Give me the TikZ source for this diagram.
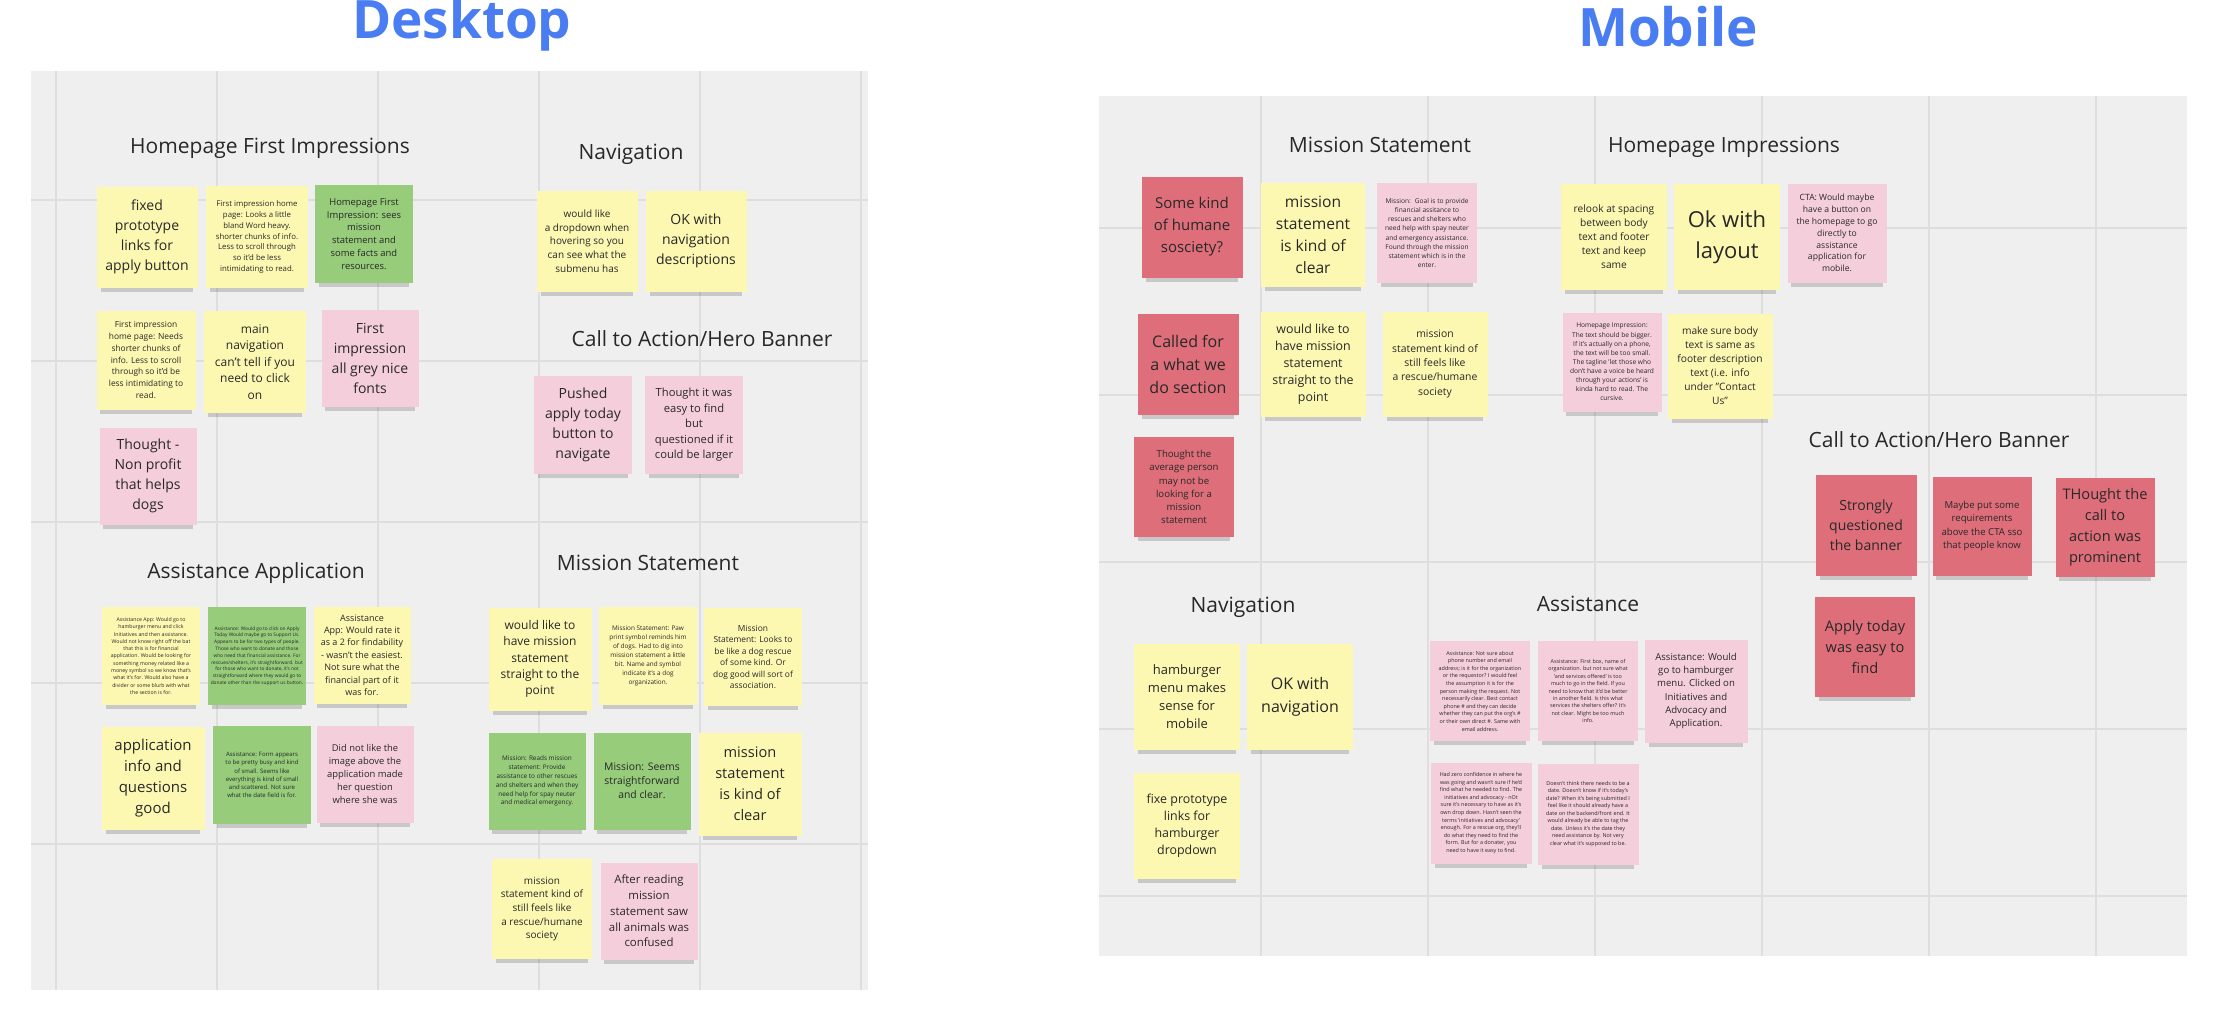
\documentclass[tikz,border=0pt]{standalone}
\usepackage{fontspec}
\setmainfont{Open Sans}
\usepackage{xcolor}
\usetikzlibrary{shadows}

\definecolor{noteyellow}{RGB}{253,248,177}
\definecolor{notegreen}{RGB}{150,204,122}
\definecolor{notepink}{RGB}{245,206,220}
\definecolor{notered}{RGB}{222,110,122}
\definecolor{boardgrey}{RGB}{239,239,239}
\definecolor{gridgrey}{RGB}{222,222,222}
\definecolor{titleblue}{RGB}{74,125,241}
\definecolor{notetext}{RGB}{40,40,40}

\begin{document}
\begin{tikzpicture}[x=0.5pt, y=-0.5pt,
    note/.style={rectangle, inner sep=0pt, align=center, text=notetext, minimum size=50pt,
      general shadow={fill=black, opacity=0.16, shadow yshift=-4.5pt, shadow scale=0.92}},
    yel/.style={note, fill=noteyellow},
    grn/.style={note, fill=notegreen},
    pnk/.style={note, fill=notepink},
    rd/.style={note, fill=notered},
    heading/.style={anchor=base, text=notetext, font=\fontsize{10.5}{13}\selectfont},
    bigtitle/.style={anchor=base, text=titleblue, font=\fontsize{26.5}{30}\selectfont\bfseries},
    gridline/.style={draw=gridgrey, line width=0.8pt}]

  \useasboundingbox (0,0) rectangle (2217,1011);
  \fill[white] (0,0) rectangle (2217,1011);

  % boards
  \fill[boardgrey] (31,71) rectangle (868,990);
  \foreach \x in {56,217,...,861} \draw[gridline] (\x,71) -- (\x,990);
  \foreach \y in {200,361,...,844} \draw[gridline] (31,\y) -- (868,\y);
  \fill[boardgrey] (1099,96) rectangle (2187,956);
  \foreach \x in {1261,1428,...,2096} \draw[gridline] (\x,96) -- (\x,956);
  \foreach \y in {228,395,...,896} \draw[gridline] (1099,\y) -- (2187,\y);

  \node[bigtitle] (desktopTitle) at (462,39) {Desktop};
  \node[bigtitle] (mobileTitle) at (1668,47) {Mobile};

  % desktop headings
  \node[heading] (dHomeHead) at (270,154) {Homepage First Impressions};
  \node[heading] (dNavHead) at (631,160) {Navigation};
  \node[heading] (dCtaHead) at (702,346) {Call to Action/Hero Banner};
  \node[heading] (dAssistHead) at (256,578) {Assistance Application};
  \node[heading] (dMissionHead) at (648,570) {Mission Statement};

  % desktop: homepage
  \node[yel, minimum size=50.5pt, font=\fontsize{7}{10}\selectfont] (dHome1) at (147,237) {fixed\\prototype\\links for\\apply button};
  \node[yel, minimum size=51pt, font=\fontsize{3.9}{5.4}\selectfont] (dHome2) at (257,237) {First impression home\\page: Looks a little\\bland Word heavy.\\shorter chunks of info.\\Less to scroll through\\so it'd be less\\intimidating to read.};
  \node[grn, minimum size=49pt, font=\fontsize{4.7}{6.45}\selectfont] (dHome3) at (364,234) {Homepage First\\Impression: sees\\mission\\statement and\\some facts and\\resources.};
  \node[yel, minimum size=49.5pt, font=\fontsize{4.2}{5.85}\selectfont] (dHome4) at (146,360) {First impression\\home page: Needs\\shorter chunks of\\info. Less to scroll\\through so it'd be\\less intimidating to\\read.};
  \node[yel, minimum size=51pt, font=\fontsize{6}{8.2}\selectfont] (dHome5) at (255,362) {main\\navigation\\can't tell if you\\need to click\\on};
  \node[pnk, minimum size=48.5pt, font=\fontsize{7}{10}\selectfont] (dHome6) at (370,358) {First\\impression\\all grey nice\\fonts};
  \node[pnk, minimum size=48.5pt, font=\fontsize{7}{10}\selectfont] (dHome7) at (148,476) {Thought -\\Non profit\\that helps\\dogs};

  % desktop: navigation and call to action
  \node[yel, minimum size=50.5pt, font=\fontsize{5}{6.85}\selectfont] (dNav1) at (587,241) {would like\\a dropdown when\\hovering so you\\can see what the\\submenu has};
  \node[yel, minimum size=50.5pt, font=\fontsize{7}{10}\selectfont] (dNav2) at (696,241) {OK with\\navigation\\descriptions};
  \node[pnk, minimum size=49pt, font=\fontsize{7}{10}\selectfont] (dCta1) at (583,425) {Pushed\\apply today\\button to\\navigate};
  \node[pnk, minimum size=49pt, font=\fontsize{5.6}{7.75}\selectfont] (dCta2) at (694,425) {Thought it was\\easy to find\\but\\questioned if it\\could be larger};

  % desktop: assistance application
  \node[yel, minimum size=49pt, font=\fontsize{2.6}{3.65}\selectfont] (dAssist1) at (151,656) {Assistance App: Would go to\\hamburger menu and click\\Initiatives and then assistance.\\Would not know right off the bat\\that this is for financial\\application. Would be looking for\\something money related like a\\money symbol so we know that's\\what it's for. Would also have a\\divider or some blurb with what\\the section is for.};
  \node[grn, minimum size=49pt, font=\fontsize{2.4}{3.4}\selectfont] (dAssist2) at (257,656) {Assistance: Would go to click on Apply\\Today Would maybe go to Support Us.\\Appears to be for two types of people.\\Those who want to donate and those\\who need that financial assistance. For\\rescues/shelters, it's straightforward. but\\for those who want to donate, it's not\\straightforward where they would go to\\donate other than the support us button.};
  \node[yel, minimum size=48.5pt, font=\fontsize{4.5}{6.2}\selectfont] (dAssist3) at (362,655) {Assistance\\App: Would rate it\\as a 2 for findability\\- wasn't the easiest.\\Not sure what the\\financial part of it\\was for.};
  \node[yel, minimum size=51.5pt, font=\fontsize{7.5}{10.5}\selectfont] (dAssist4) at (153,778) {application\\info and\\questions\\good};
  \node[grn, minimum size=49pt, font=\fontsize{3}{4.15}\selectfont] (dAssist5) at (262,775) {Assistance: Form appears\\to be pretty busy and kind\\of small. Seems like\\everything is kind of small\\and scattered. Not sure\\what the date field is for.};
  \node[pnk, minimum size=48.5pt, font=\fontsize{4.7}{6.4}\selectfont] (dAssist6) at (365,774) {Did not like the\\image above the\\application made\\her question\\where she was};

  % desktop: mission statement
  \node[yel, minimum size=51.5pt, font=\fontsize{6}{8.2}\selectfont] (dMission1) at (540,659) {would like to\\have mission\\statement\\straight to the\\point};
  \node[yel, minimum size=49pt, font=\fontsize{3.2}{4.45}\selectfont] (dMission2) at (648,656) {Mission Statement: Paw\\print symbol reminds him\\of dogs. Had to dig into\\mission statement a little\\bit. Name and symbol\\indicate it's a dog\\organization.};
  \node[yel, minimum size=49pt, font=\fontsize{4.2}{5.75}\selectfont] (dMission3) at (753,657) {Mission\\Statement: Looks to\\be like a dog rescue\\of some kind. Or\\dog good will sort of\\association.};
  \node[grn, minimum size=48.5pt, font=\fontsize{3.2}{4.45}\selectfont] (dMission4) at (537,781) {Mission: Reads mission\\statement: Provide\\assistance to other rescues\\and shelters and when they\\need help for spay neuter\\and medical emergency.};
  \node[grn, minimum size=48.5pt, font=\fontsize{5.2}{7.1}\selectfont] (dMission5) at (642,781) {Mission: Seems\\straightforward\\and clear.};
  \node[yel, minimum size=51.5pt, font=\fontsize{7.3}{10.5}\selectfont] (dMission6) at (750,784) {mission\\statement\\is kind of\\clear};
  \node[yel, minimum size=50pt, font=\fontsize{5}{6.8}\selectfont] (dMission7) at (542,909) {mission\\statement kind of\\still feels like\\a rescue/humane\\society};
  \node[pnk, minimum size=48.5pt, font=\fontsize{5.7}{7.85}\selectfont] (dMission8) at (649,911) {After reading\\mission\\statement saw\\all animals was\\confused};

  % mobile headings
  \node[heading] (mMissionHead) at (1380,153) {Mission Statement};
  \node[heading] (mHomeHead) at (1724,153) {Homepage Impressions};
  \node[heading] (mCtaHead) at (1939,447) {Call to Action/Hero Banner};
  \node[heading] (mNavHead) at (1243,612) {Navigation};
  \node[heading] (mAssistHead) at (1588,611) {Assistance};

  % mobile: mission statement
  \node[rd, minimum size=50.5pt, font=\fontsize{7.5}{11}\selectfont] (mMission1) at (1192,227) {Some kind\\of humane\\sosciety?};
  \node[yel, minimum size=52pt, font=\fontsize{7.8}{11}\selectfont] (mMission2) at (1313,235) {mission\\statement\\is kind of\\clear};
  \node[pnk, minimum size=50pt, font=\fontsize{3.3}{4.6}\selectfont] (mMission3) at (1427,233) {Mission:~ Goal is to provide\\financial assitance to\\rescues and shelters who\\need help with spay neuter\\and emergency assistance.\\Found through the mission\\statement which is in the\\enter.};
  \node[rd, minimum size=50.5pt, font=\fontsize{8}{11.5}\selectfont] (mMission4) at (1188,364) {Called for\\a what we\\do section};
  \node[yel, minimum size=52.5pt, font=\fontsize{6.2}{8.5}\selectfont] (mMission5) at (1313,364) {would like to\\have mission\\statement\\straight to the\\point};
  \node[yel, minimum size=52.5pt, font=\fontsize{5.2}{7.15}\selectfont] (mMission6) at (1435,364) {mission\\statement kind of\\still feels like\\a rescue/humane\\society};
  \node[rd, minimum size=50pt, font=\fontsize{4.8}{6.6}\selectfont] (mMission7) at (1184,487) {Thought the\\average person\\may not be\\looking for a\\mission\\statement};

  % mobile: homepage
  \node[yel, minimum size=53pt, font=\fontsize{5.1}{7}\selectfont] (mHome1) at (1614,237) {relook at spacing\\between body\\text and footer\\text and keep\\same};
  \node[yel, minimum size=53pt, font=\fontsize{11}{15.5}\selectfont] (mHome2) at (1727,237) {Ok with\\layout};
  \node[pnk, minimum size=49.5pt, font=\fontsize{4.3}{5.9}\selectfont] (mHome3) at (1837,233) {CTA: Would maybe\\have a button on\\the homepage to go\\directly to\\assistance\\application for\\mobile.};
  \node[pnk, minimum size=49.5pt, font=\fontsize{3.3}{4.55}\selectfont] (mHome4) at (1612,362) {Homepage Impression:\\The text should be bigger.\\If it's actually on a phone,\\the text will be too small.\\The tagline 'let those who\\don't have a voice be heard\\through your actions' is\\kinda hard to read. The\\cursive.};
  \node[yel, minimum size=52.5pt, font=\fontsize{5.1}{7}\selectfont] (mHome5) at (1720,366) {make sure body\\text is same as\\footer description\\text (i.e. info\\under "Contact\\Us"};

  % mobile: call to action
  \node[rd, minimum size=50.5pt, font=\fontsize{7}{10}\selectfont] (mCta1) at (1866,525) {Strongly\\questioned\\the banner};
  \node[rd, minimum size=49.5pt, font=\fontsize{4.8}{6.65}\selectfont] (mCta2) at (1982,526) {Maybe put some\\requirements\\above the CTA sso\\that people know};
  \node[rd, minimum size=49.5pt, font=\fontsize{7.3}{10.5}\selectfont] (mCta3) at (2105,527) {THought the\\call to\\action was\\prominent};
  \node[rd, minimum size=50pt, font=\fontsize{7.3}{10.5}\selectfont] (mCta4) at (1865,647) {Apply today\\was easy to\\find};

  % mobile: assistance
  \node[pnk, minimum size=50pt, font=\fontsize{2.7}{3.8}\selectfont] (mAssist1) at (1480,691) {Assistance: Not sure about\\phone number and email\\address; is it for the organization\\or the requestor? I would feel\\the assumption it is for the\\person making the request. Not\\necessarily clear. Best contact\\phone \# and they can decide\\whether they can put the org's \#\\or their own direct \#. Same with\\email address.};
  \node[pnk, minimum size=50pt, font=\fontsize{2.7}{3.7}\selectfont] (mAssist2) at (1588,691) {Assistance: First box, name of\\organization. but not sure what\\'and services offered' is too\\much to go in the field. If you\\need to know that it'd be better\\in another field. Is this what\\services the shelters offer? It's\\not clear. Might be too much\\info.};
  \node[pnk, minimum size=51.5pt, font=\fontsize{4.8}{6.65}\selectfont] (mAssist3) at (1696,691) {Assistance: Would\\go to hamburger\\menu. Clicked on\\Initiatives and\\Advocacy and\\Application.};
  \node[pnk, minimum size=50.5pt, font=\fontsize{2.7}{3.8}\selectfont] (mAssist4) at (1481,813) {Had zero confidence in where he\\was going and wasn't sure if he'd\\find what he needed to find. The\\initiatives and advocacy - nOt\\sure it's necessary to have as it's\\own drop down. Hasn't seen the\\terms 'initiatives and advocacy'\\enough. For a rescue org, they'll\\do what they need to find the\\form. But for a donater, you\\need to have it easy to find.};
  \node[pnk, minimum size=50.5pt, font=\fontsize{2.7}{3.75}\selectfont] (mAssist5) at (1588,814) {Doesn't think there needs to be a\\date. Doesn't know if it's today's\\date? When it's being submitted I\\feel like it should already have a\\date on the backend/front end. It\\would already be able to tag the\\date. Unless it's the date they\\need assistance by. Not very\\clear what it's supposed to be.};

  % mobile: navigation
  \node[yel, minimum size=53pt, font=\fontsize{6.5}{9}\selectfont] (mNav1) at (1187,697) {hamburger\\menu makes\\sense for\\mobile};
  \node[yel, minimum size=53pt, font=\fontsize{8}{11.5}\selectfont] (mNav2) at (1300,697) {OK with\\navigation};
  \node[yel, minimum size=53pt, font=\fontsize{6.2}{8.5}\selectfont] (mNav3) at (1187,826) {fixe prototype\\links for\\hamburger\\dropdown};
\end{tikzpicture}
\end{document}
